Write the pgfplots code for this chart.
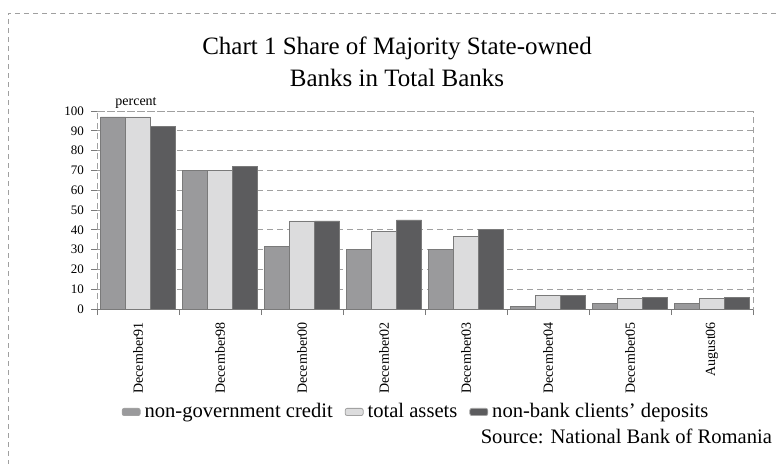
\documentclass[border=0pt]{standalone}
\usepackage{fontspec}
\setmainfont{Liberation Serif}
\usepackage{pgfplots}
\pgfplotsset{compat=1.18}
\definecolor{cA}{HTML}{9A9A9C}
\definecolor{cB}{HTML}{DCDCDD}
\definecolor{cC}{HTML}{5C5C5E}
\definecolor{edge}{HTML}{7A7A7A}
\definecolor{gridc}{HTML}{A0A0A0}
\begin{document}
\begin{tikzpicture}
\useasboundingbox (0,0) rectangle (389.5pt,231.5pt);
\draw[gridc, dash pattern=on 2.5pt off 2pt, line width=0.4pt] (4pt,-10pt) -- (4pt,225pt) -- (400pt,225pt);
\node[font=\fontsize{12.5}{15}\selectfont] at (198.5pt,207.5pt) {Chart 1 Share of Majority State-owned};
\node[font=\fontsize{12.5}{15}\selectfont] at (198.5pt,192.5pt) {Banks in Total Banks};
\node[font=\fontsize{7}{8}\selectfont] at (68pt,180pt) {percent};
\node[font=\fontsize{10.3}{12}\selectfont, anchor=east] at (389.5pt,13.5pt) {Source: National Bank of Romania};
\begin{axis}[
  at={(48.5pt,77pt)}, anchor=south west,
  width=328pt, height=99pt, scale only axis,
  xmin=-0.5, xmax=7.5, ymin=0, ymax=100,
  ybar=0pt, bar width=12.5pt,
  ytick={0,10,...,100},
  xtick={-0.5,0.5,...,7.5},
  x tick label as interval,
  xtick pos=bottom, ytick pos=left,
  xticklabels={December91,December98,December00,December02,December03,December04,December05,August06},
  x tick label style={rotate=90, anchor=east, font=\fontsize{7}{8}\selectfont},
  y tick label style={font=\fontsize{6.5}{7}\selectfont},
  /pgf/number format/assume math mode=true,
  ymajorgrids,
  major grid style={gridc, dash pattern=on 3pt off 2pt, line width=0.4pt},
  axis line style={gridc, dash pattern=on 3pt off 2pt, line width=0.4pt},
  tick align=outside, major tick length=3pt,
  tick style={edge, line width=0.4pt},
  legend columns=3,
  legend style={at={(0.488,-0.52)}, anchor=center, draw=none, fill=none,
    font=\fontsize{10.3}{12}\selectfont,
    /tikz/every even column/.append style={column sep=4pt}},
  legend image code/.code={\draw[#1, draw=edge!70, rounded corners=1pt] (0pt,-1.8pt) rectangle (9pt,1.8pt);},
]
\addplot[fill=cA, draw=edge, line width=0.4pt] coordinates {(0,97) (1,70) (2,31.5) (3,30) (4,30) (5,1.5) (6,3) (7,3)};
\addplot[fill=cB, draw=edge, line width=0.4pt] coordinates {(0,97) (1,70) (2,44.5) (3,39) (4,36.5) (5,7) (6,5.5) (7,5.5)};
\addplot[fill=cC, draw=edge, line width=0.4pt] coordinates {(0,92) (1,72) (2,44.5) (3,45) (4,40) (5,7) (6,6) (7,6)};
\legend{non-government credit, total assets, non-bank clients' deposits}
\draw[edge, line width=0.5pt] (axis cs:-0.5,0) -- (axis cs:7.5,0);
\end{axis}
\end{tikzpicture}
\end{document}
